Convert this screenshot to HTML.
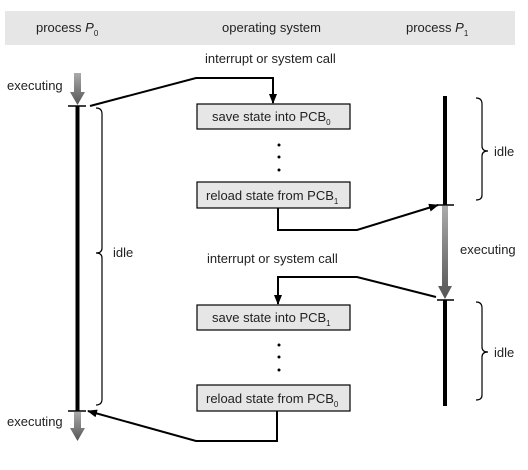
<!DOCTYPE html>
<html><head><style>
body{margin:0;background:#fff;}
svg text{font-family:"Liberation Sans",sans-serif;font-size:13px;fill:#222;}
</style></head><body>
<svg width="528" height="465" viewBox="0 0 528 465" xmlns="http://www.w3.org/2000/svg">
<defs>
<linearGradient id="g1" x1="0" y1="0" x2="0" y2="1"><stop offset="0" stop-color="#aaa"/><stop offset="1" stop-color="#555"/></linearGradient>
<marker id="ah" markerWidth="10" markerHeight="8" refX="9" refY="4" orient="auto" markerUnits="userSpaceOnUse"><path d="M0,0 L10,4 L0,8 Z" fill="#000"/></marker>
</defs>
<rect x="5" y="11" width="510" height="34" fill="#e6e6e6"/>
<text x="36" y="32">process <tspan font-style="italic">P</tspan><tspan font-size="8" dy="4">0</tspan></text>
<text x="222" y="32">operating system</text>
<text x="406" y="32">process <tspan font-style="italic">P</tspan><tspan font-size="8" dy="4">1</tspan></text>
<text x="205" y="63">interrupt or system call</text>
<text x="207" y="263">interrupt or system call</text>
<text x="7" y="90">executing</text>
<text x="7" y="426">executing</text>
<text x="460" y="254">executing</text>
<text x="113" y="257">idle</text>
<text x="494" y="156">idle</text>
<text x="494" y="357">idle</text>
<!-- P0 -->
<path d="M74,73 H81 V92 H85 L77.5,105 L70,92 H74 Z" fill="url(#g1)"/>
<line x1="68" y1="106" x2="86" y2="106" stroke="#000" stroke-width="1.5"/>
<line x1="77.5" y1="106" x2="77.5" y2="411" stroke="#000" stroke-width="4"/>
<line x1="68" y1="411" x2="86" y2="411" stroke="#000" stroke-width="1.5"/>
<path d="M74,412 H81 V428 H85 L77.5,441 L70,428 H74 Z" fill="url(#g1)"/>
<path d="M96,108 Q102,108 102,114 V248 Q102,253 96,253 Q102,253 102,258 V399 Q102,405 96,405" fill="none" stroke="#000" stroke-width="1.2"/>
<!-- P1 -->
<line x1="445" y1="96" x2="445" y2="205" stroke="#000" stroke-width="4"/>
<line x1="437" y1="205" x2="454" y2="205" stroke="#000" stroke-width="1.5"/>
<path d="M442,206 H448 V286 H452 L445,299 L438,286 H442 Z" fill="url(#g1)"/>
<line x1="437" y1="300" x2="454" y2="300" stroke="#000" stroke-width="1.5"/>
<line x1="445" y1="300" x2="445" y2="406" stroke="#000" stroke-width="4"/>
<path d="M476,98 Q482,98 482,104 V146 Q482,151 488,151 Q482,151 482,156 V195 Q482,200 476,200" fill="none" stroke="#000" stroke-width="1.2"/>
<path d="M476,302 Q482,302 482,308 V347 Q482,352 488,352 Q482,352 482,357 V395 Q482,400 476,400" fill="none" stroke="#000" stroke-width="1.2"/>
<!-- boxes -->
<g stroke="#000" stroke-width="1.2" fill="#e6e6e6">
<rect x="197" y="104" width="153" height="25"/>
<rect x="197" y="182" width="153" height="26"/>
<rect x="197" y="305" width="153" height="25"/>
<rect x="197" y="385" width="153" height="26"/>
</g>
<text x="212" y="121">save state into PCB<tspan font-size="8" dy="4">0</tspan></text>
<text x="206" y="200">reload state from PCB<tspan font-size="8" dy="4">1</tspan></text>
<text x="212" y="322">save state into PCB<tspan font-size="8" dy="4">1</tspan></text>
<text x="206" y="403">reload state from PCB<tspan font-size="8" dy="4">0</tspan></text>
<g fill="#000">
<circle cx="279" cy="145" r="1.5"/><circle cx="279" cy="157" r="1.5"/><circle cx="279" cy="170" r="1.5"/>
<circle cx="279" cy="345" r="1.5"/><circle cx="279" cy="357" r="1.5"/><circle cx="279" cy="370" r="1.5"/>
</g>
<g fill="none" stroke="#000" stroke-width="2">
<path d="M90,106 L196,78 H273 V103" marker-end="url(#ah)"/>
<path d="M278,208 V230 H357 L438,205" marker-end="url(#ah)"/>
<path d="M436,297 L357,277 H278 V304" marker-end="url(#ah)"/>
<path d="M277,411 V441 H196 L88,411" marker-end="url(#ah)"/>
</g>
</svg>
</body></html>
